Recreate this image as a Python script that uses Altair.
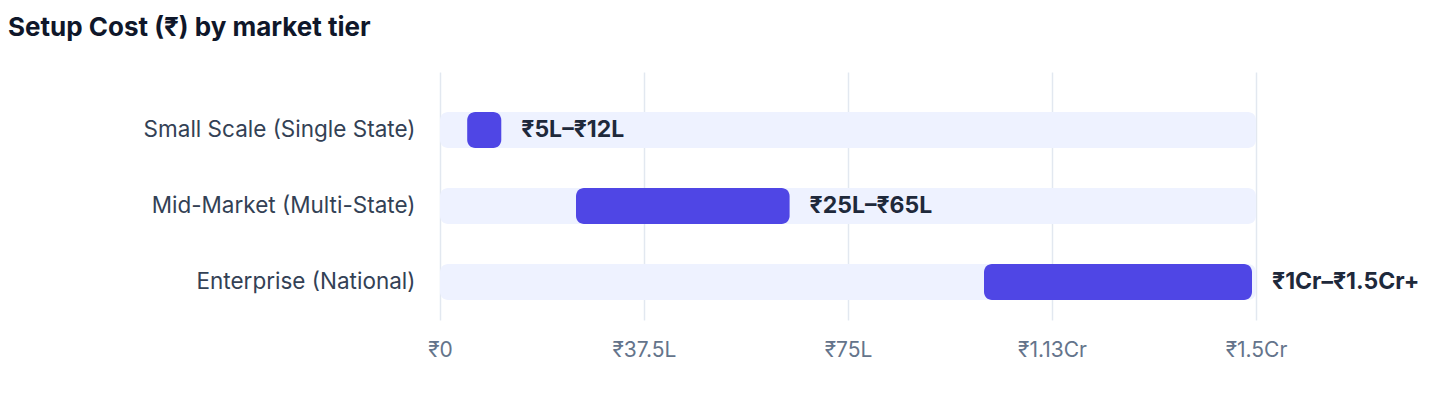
import altair as alt
import pandas as pd

# ---- data ----
tiers = ["Small Scale (Single State)", "Mid-Market (Multi-State)", "Enterprise (National)"]
low_lakh = [5, 25, 100]
high_lakh = [12, 65, 150]
range_labels = ["₹5L–₹12L", "₹25L–₹65L", "₹1Cr–₹1.5Cr+"]
axis_max = 150
tick_values = [0, 37.5, 75, 112.5, 150]
tick_labels = ["₹0", "₹37.5L", "₹75L", "₹1.13Cr", "₹1.5Cr"]

df = pd.DataFrame({
    "tier": tiers,
    "low": low_lakh,
    "high": high_lakh,
    "label": range_labels,
    "zero": [0] * len(tiers),
    "max": [axis_max] * len(tiers),
})

label_expr = " : ".join(
    [f"datum.value == {v} ? '{t}'" for v, t in zip(tick_values, tick_labels)] + ["''"]
)

FONT = "Inter"

y_enc = alt.Y(
    "tier:N",
    sort=tiers,
    title=None,
    scale=alt.Scale(paddingInner=0.5, paddingOuter=0.3816, align=0.672),
    axis=alt.Axis(
        ticks=False, domain=False, grid=False, labelPadding=25,
        labelFontSize=22.5, labelFont=FONT, labelColor="#334155", labelLimit=400,
    ),
)

x_scale = alt.Scale(domain=[0, axis_max], nice=False, zero=True)

track = alt.Chart(df).mark_bar(color="#eef2ff", cornerRadius=8, size=36).encode(
    x=alt.X(
        "zero:Q",
        scale=x_scale,
        title=None,
        axis=alt.Axis(
            values=tick_values, labelExpr=label_expr, ticks=False, domain=False,
            grid=True, gridColor="#e2e8f0", gridWidth=1.5,
            labelFontSize=21, labelFont=FONT, labelColor="#64748b",
            labelBaseline="alphabetic", labelPadding=36, labelFlush=False,
        ),
    ),
    x2="max:Q",
    y=y_enc,
)

bars = alt.Chart(df).mark_bar(color="#4f46e5", cornerRadius=8, size=36, x2Offset=-4).encode(
    x=alt.X("low:Q", scale=x_scale),
    x2="high:Q",
    y=alt.Y("tier:N", sort=tiers),
)

texts = alt.Chart(df).mark_text(
    align="left", baseline="middle", dx=16, fontSize=23, fontWeight="bold",
    font=FONT, color="#1e293b",
).encode(
    x=alt.X("high:Q", scale=x_scale),
    y=alt.Y("tier:N", sort=tiers),
    text="label:N",
)

chart = (
    alt.layer(track, bars, texts)
    .properties(
        width=816,
        height=248,
        title=alt.TitleParams(
            "Setup Cost (₹) by market tier",
            anchor="start", frame="group", dx=-432, offset=10,
            baseline="alphabetic",
            fontSize=26, fontWeight="bold", font=FONT, color="#0f172a",
        ),
        autosize=alt.AutoSizeParams(type="none"),
        padding={"left": 432, "top": 64, "right": 176, "bottom": 70},
    )
    .configure_view(stroke=None)
)

chart.save("out.html", embed_options={"renderer": "svg", "actions": False})
